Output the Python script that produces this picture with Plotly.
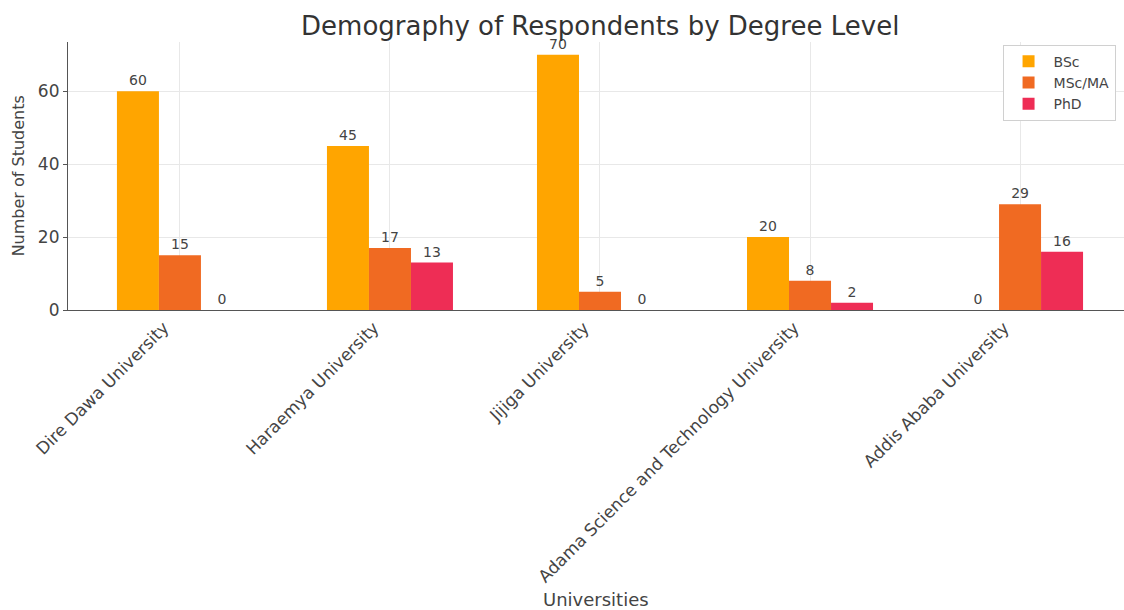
import plotly.graph_objects as go

universities = ["Dire Dawa University", "Haraemya University", "Jijiga University",
                "Adama Science and Technology University", "Addis Ababa University"]
bsc = [60, 45, 70, 20, 0]
msc = [15, 17, 5, 8, 29]
phd = [0, 13, 0, 2, 16]
series_names = ["BSc", "MSc/MA", "PhD"]
colors = ["#FFA500", "#F06A22", "#EE2D55"]

fig = go.Figure()
for name, vals, col in zip(series_names, [bsc, msc, phd], colors):
    fig.add_trace(go.Bar(
        x=universities, y=vals, name=name, marker_color=col, marker_line_width=0,
        text=[str(v) for v in vals], textposition="outside", cliponaxis=False,
        textfont=dict(size=14, color="#444", family="DejaVu Sans"),
    ))

fig.update_layout(
    width=1124, height=610,
    barmode="group", bargap=0.4, bargroupgap=0,
    margin=dict(l=68, r=0, t=42, b=300),
    paper_bgcolor="white", plot_bgcolor="white",
    font=dict(family="DejaVu Sans", color="#444"),
    title=dict(text="Demography of Respondents by Degree Level", x=0.534, xanchor="center",
               y=0.957, yanchor="middle", font=dict(size=26, color="#333")),
    legend=dict(x=0.992, y=0.99, xanchor="right", yanchor="top",
                bordercolor="#d0d0d0", borderwidth=1, bgcolor="white",
                font=dict(size=14, color="#444"), tracegroupgap=0, itemwidth=40),
    annotations=[
        dict(text="Universities", xref="paper", yref="paper", x=0.5, y=-1.082,
             xanchor="center", yanchor="middle", showarrow=False,
             font=dict(size=18, color="#444")),
        dict(text="Number of Students", xref="paper", yref="paper", x=-0.047, y=0.5,
             xanchor="center", yanchor="middle", textangle=-90, showarrow=False,
             font=dict(size=16, color="#444")),
    ],
)
fig.update_xaxes(
    range=[-0.533, 4.495], tickangle=-45, showgrid=True, gridcolor="#e8e8e8",
    showline=True, linecolor="#555", linewidth=1.2, ticks="", tickfont=dict(size=17, color="#444"),
    ticklabelshift=-16, automargin=False,
)
fig.update_yaxes(
    range=[0, 73.5], tickvals=[0, 20, 40, 60], showgrid=True, gridcolor="#e8e8e8",
    showline=True, linecolor="#555", linewidth=1.2, ticks="outside", ticklen=4, tickcolor="#555",
    tickfont=dict(size=17, color="#444"), zeroline=False,
    automargin=False,
)
fig.write_html("out.html")
